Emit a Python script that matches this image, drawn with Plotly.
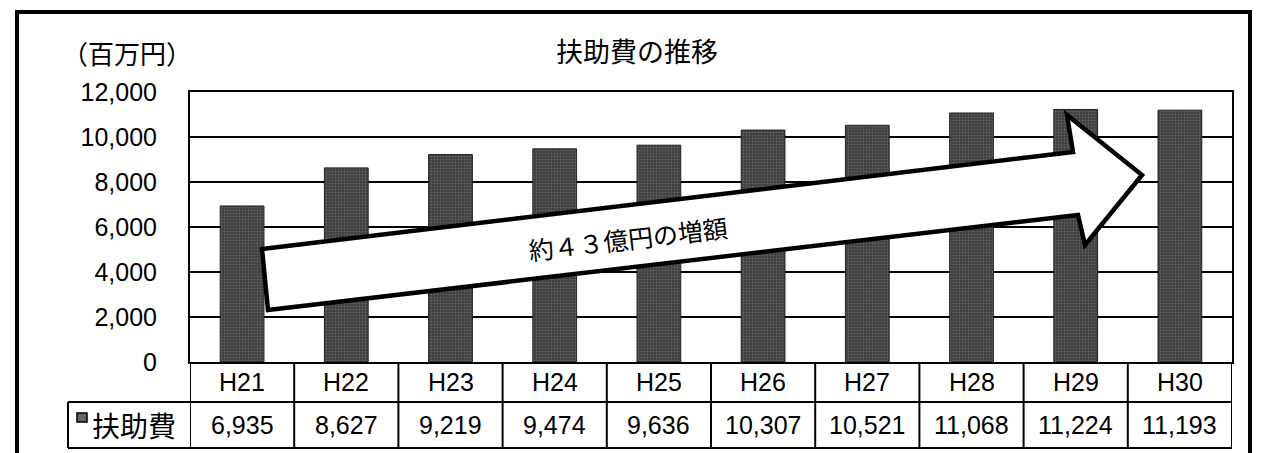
import plotly.graph_objects as go

categories = ["H21", "H22", "H23", "H24", "H25", "H26", "H27", "H28", "H29", "H30"]
values = [6935, 8627, 9219, 9474, 9636, 10307, 10521, 11068, 11224, 11193]
value_labels = ["6,935", "8,627", "9,219", "9,474", "9,636", "10,307", "10,521", "11,068", "11,224", "11,193"]
y_ticks = [0, 2000, 4000, 6000, 8000, 10000, 12000]
y_tick_labels = ["0", "2,000", "4,000", "6,000", "8,000", "10,000", "12,000"]
series_name = "扶助費"
title_text = "扶助費の推移"
unit_text = "（百万円）"
arrow_text = "約４３億円の増額"

W, H = 1261, 453
L, R, T, B = 190, 29, 92, 91
PW, PH = W - L - R, H - T - B


def px(x):
    return (x - L) / PW


def py(y):
    return (H - B - y) / PH


NUM_FONT = "Liberation Sans, Arial, sans-serif"
JP_FONT = "Noto Sans CJK JP, sans-serif"

fig = go.Figure()
fig.add_trace(go.Bar(
    x=list(range(len(categories))), y=values, width=0.42,
    marker=dict(color="#3e3e3e", line=dict(color="#222222", width=1),
                pattern=dict(shape=".", fgcolor="#8a8a8a", size=3, solidity=0.3)),
    showlegend=False, hoverinfo="skip",
))

shapes = []
annotations = []

# outer border
shapes.append(dict(type="rect", xref="paper", yref="paper",
                   x0=px(17), x1=px(1250), y0=py(465), y1=py(12),
                   line=dict(color="black", width=4), layer="above"))

# table lines
row1_bot = 402
row2_bot = 448
for yy, x0 in [(row1_bot, 68), (row2_bot, 68)]:
    shapes.append(dict(type="line", xref="paper", yref="paper",
                       x0=px(x0), x1=1, y0=py(yy), y1=py(yy),
                       line=dict(color="black", width=2)))
for i in range(len(categories) + 1):
    shapes.append(dict(type="line", xref="x", yref="paper",
                       x0=i - 0.5, x1=i - 0.5, y0=py(row2_bot), y1=0,
                       line=dict(color="black", width=2)))
shapes.append(dict(type="line", xref="paper", yref="paper",
                   x0=px(68), x1=px(68), y0=py(row2_bot), y1=py(row1_bot),
                   line=dict(color="black", width=2)))
# legend key
shapes.append(dict(type="rect", xref="paper", yref="paper",
                   x0=px(77), x1=px(87), y0=py(422), y1=py(413),
                   fillcolor="#666666", line=dict(color="black", width=1.5)))


def ann(x, y, text, font, xref="paper", angle=0, xanchor="center"):
    annotations.append(dict(x=x, y=y, xref=xref, yref="paper", text=text,
                            showarrow=False, xanchor=xanchor, yanchor="middle",
                            textangle=angle, font=font))


for i, (c, v) in enumerate(zip(categories, value_labels)):
    ann(i, py((362 + row1_bot) / 2), c, dict(family=NUM_FONT, size=25, color="black"), xref="x")
    ann(i, py((row1_bot + row2_bot) / 2), v, dict(family=NUM_FONT, size=25, color="black"), xref="x")

ann(px(90), py(425), series_name, dict(family=JP_FONT, size=28, color="black"), xanchor="left")

# arrow
pts = [(262, 249), (1073, 152), (1067, 115), (1142, 175), (1085, 245), (1078, 215), (268, 310)]
path = "M " + " L ".join(f"{px(a):.5f},{py(b):.5f}" for a, b in pts) + " Z"
shapes.append(dict(type="path", xref="paper", yref="paper", path=path,
                   fillcolor="white", line=dict(color="black", width=4.5), layer="above"))
ann(px(628), py(238), arrow_text, dict(family=JP_FONT, size=25, color="black"), angle=-6.7)

# title and unit
ann(px(637), py(50), title_text, dict(family=JP_FONT, size=27, color="black"))
ann(px(127), py(52), unit_text, dict(family=JP_FONT, size=26, color="black"))

fig.update_layout(
    width=W, height=H,
    margin=dict(l=L, r=R, t=T, b=B, pad=0),
    paper_bgcolor="white", plot_bgcolor="white",
    shapes=shapes, annotations=annotations,
    xaxis=dict(range=[-0.5, len(categories) - 0.5], showticklabels=False, showgrid=False,
               zeroline=False, showline=True, linecolor="black", linewidth=2, mirror=True,
               fixedrange=True),
    yaxis=dict(range=[0, 12000], tickvals=y_ticks, ticktext=y_tick_labels,
               showgrid=True, gridcolor="black", gridwidth=2, zeroline=False,
               showline=True, linecolor="black", linewidth=2, mirror=True,
               ticks="", ticklabelstandoff=26,
               tickfont=dict(family=NUM_FONT, size=25, color="black"), fixedrange=True),
    bargap=0.58,
)

fig.write_html("out.html")
